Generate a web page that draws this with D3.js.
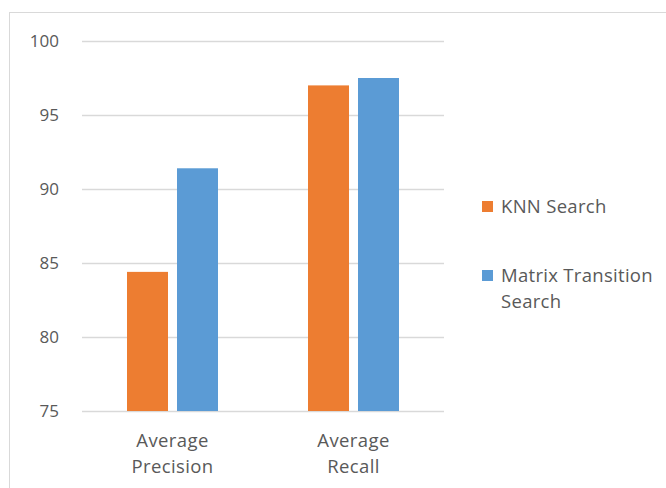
<!DOCTYPE html>
<html>
<head>
<meta charset="utf-8">
<script src="https://cdn.jsdelivr.net/npm/d3@7"></script>
<style>
  body { margin: 0; background: #fff; }
  text { font-family: "Open Sans", "Liberation Sans", sans-serif; fill: #595959; }
</style>
</head>
<body>
<div id="chart"></div>
<script>
// chart data
const categories = [["Average", "Precision"], ["Average", "Recall"]];
const seriesNames = ["KNN Search", "Matrix Transition Search"];
const knnValues = [84.4, 97.0];
const matrixValues = [91.4, 97.5];
const yTicks = [75, 80, 85, 90, 95, 100];

const colors = ["#ED7D31", "#5B9BD5"];
const width = 666, height = 488;

const svg = d3.select("#chart").append("svg")
    .attr("width", width)
    .attr("height", height);

// outer chart frame
svg.append("rect")
    .attr("x", 9.5).attr("y", 12.5)
    .attr("width", 700).attr("height", 500)
    .attr("fill", "none")
    .attr("stroke", "#d9d9d9");

const plot = { left: 82, right: 444, top: 41, bottom: 411 };

const x = d3.scaleBand()
    .domain(d3.range(categories.length))
    .range([plot.left, plot.right]);

const y = d3.scaleLinear()
    .domain([75, 100])
    .range([plot.bottom, plot.top]);

// gridlines
svg.append("g")
  .selectAll("line")
  .data(yTicks)
  .enter().append("line")
    .attr("x1", plot.left).attr("x2", plot.right)
    .attr("y1", d => Math.round(y(d)) + 0.5)
    .attr("y2", d => Math.round(y(d)) + 0.5)
    .attr("stroke", "#d9d9d9")
    .attr("stroke-width", 1.3);

// y tick labels
svg.append("g")
  .selectAll("text")
  .data(yTicks)
  .enter().append("text")
    .attr("x", 59)
    .attr("y", d => y(d))
    .attr("dy", "0.35em")
    .attr("text-anchor", "end")
    .style("font-size", "17px")
    .text(d => d);

// bars, grouped by series
const barW = 41, gap = 9;
const groupW = barW * 2 + gap;
const series = [knnValues, matrixValues];

series.forEach((vals, si) => {
  svg.append("g")
    .selectAll("rect")
    .data(vals)
    .enter().append("rect")
      .attr("x", (d, i) => x(i) + x.bandwidth() / 2 - groupW / 2 + si * (barW + gap))
      .attr("y", d => y(d))
      .attr("width", barW)
      .attr("height", d => y(75) - y(d))
      .attr("fill", colors[si]);
});

// x category labels, one text per line
svg.append("g")
  .selectAll("g")
  .data(categories)
  .enter().append("g")
    .attr("transform", (d, i) => `translate(${x(i) + x.bandwidth() / 2},447)`)
  .selectAll("text")
  .data(d => d)
  .enter().append("text")
    .attr("text-anchor", "middle")
    .attr("y", (d, i) => i * 26)
    .style("font-size", "18.5px")
    .style("letter-spacing", "0.4px")
    .text(d => d);

// legend
const legendRows = [["KNN Search"], ["Matrix Transition", "Search"]];
const legendY = [207, 276];

legendRows.forEach((lines, i) => {
  const g = svg.append("g").attr("transform", `translate(482,${legendY[i]})`);
  g.append("rect")
    .attr("x", 0).attr("y", -6)
    .attr("width", 11).attr("height", 11)
    .attr("fill", colors[i]);
  g.selectAll("text")
    .data(lines)
    .enter().append("text")
      .attr("x", 19)
      .attr("y", (d, j) => j * 26)
      .attr("dy", "0.35em")
      .style("font-size", "18.5px")
      .style("letter-spacing", "0.3px")
      .text(d => d);
});
</script>
</body>
</html>
